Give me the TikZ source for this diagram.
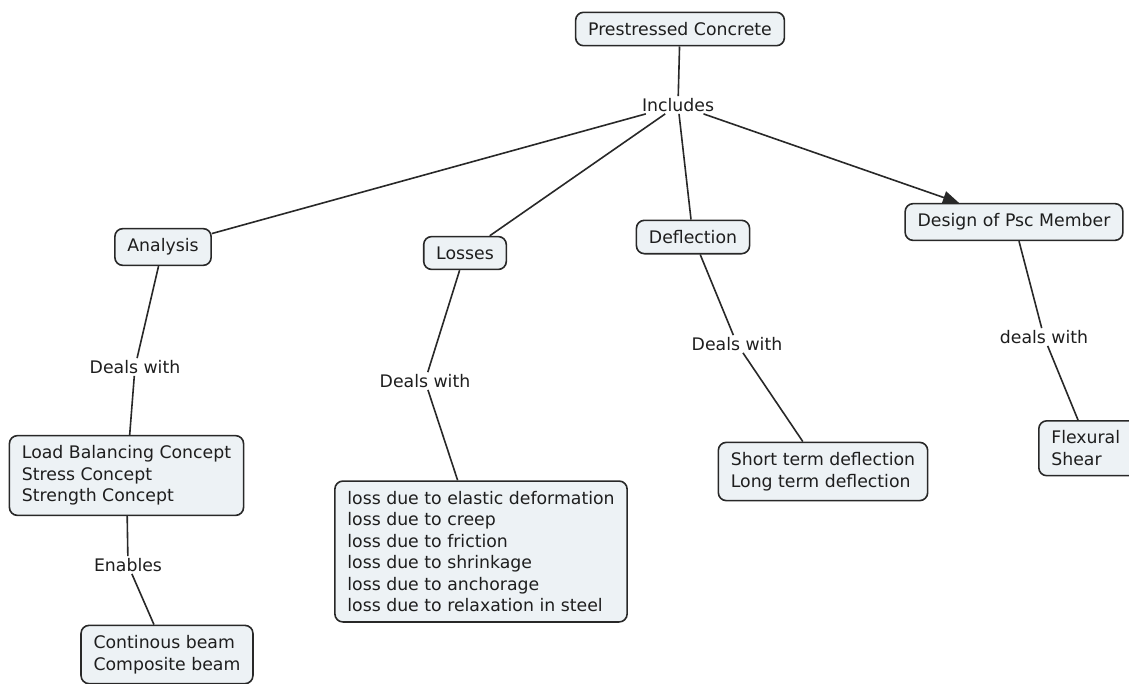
\documentclass[tikz,border=0pt]{standalone}
\usepackage{fontspec}
\setmainfont{DejaVu Sans}
\usepackage{xcolor}
\usetikzlibrary{arrows.meta}
\definecolor{boxfill}{RGB}{237,242,245}
\definecolor{boxline}{RGB}{40,40,40}
\definecolor{inktext}{RGB}{30,30,30}

\begin{document}
\begin{tikzpicture}[x=1pt,y=-1pt,
  concept/.style={draw=boxline,fill=boxfill,line width=1.6pt,rounded corners=8pt,text=inktext,
    align=left,inner xsep=12.5pt,inner ysep=10pt,font=\fontsize{17.3}{21.5}\selectfont},
  linkword/.style={inner sep=2pt,text=inktext,font=\fontsize{17.3}{21.5}\selectfont},
  conn/.style={draw=boxline,line width=1.6pt}]
  % page frame
  \clip (0,0) rectangle (1129,683);
  \fill[white] (0,0) rectangle (1129,683);
  % top concept and first link word
  \node[concept] (pc) at (680,29) {Prestressed Concrete};
  \node[linkword] (inc) at (678,105) {Includes};
  % second level concepts
  \node[concept] (ana) at (163,247) {Analysis};
  \node[concept] (los) at (465,253) {Losses};
  \node[concept] (def) at (693,237) {Deflection};
  \node[concept] (dsg) at (1014,222) {Design of Psc Member};
  % link words below the second level
  \node[linkword] (dw1) at (135,367) {Deals with};
  \node[linkword] (dw2) at (425,381) {Deals with};
  \node[linkword] (dw3) at (737,344) {Deals with};
  \node[linkword] (dw4) at (1044,337) {deals with};
  \node[linkword] (enb) at (128,565) {Enables};
  % leaf concepts
  \node[concept] (lbc) at (126.5,475.5) {Load Balancing Concept\\Stress Concept\\Strength Concept};
  \node[concept] (cnt) at (167,654.5) {Continous beam\\Composite beam};
  \node[concept] (lss) at (481,551.5) {loss due to elastic deformation\\loss due to creep\\loss due to friction\\loss due to shrinkage\\loss due to anchorage\\loss due to relaxation in steel};
  \node[concept] (std) at (823,471.5) {Short term deflection\\Long term deflection};
  \node[concept,anchor=north west,text width=100pt] (fls) at (1038,420) {Flexural\\Shear};
  % connectors
  \draw[conn] (pc) -- (inc);
  \draw[conn] (inc) -- (ana);
  \draw[conn] (inc) -- (los);
  \draw[conn] (inc) -- (def);
  \draw[conn,-{Triangle[length=16pt,width=13pt]}] (inc) -- (dsg);
  \draw[conn] (ana) -- (dw1);
  \draw[conn] (dw1) -- (lbc);
  \draw[conn] (lbc) -- (enb);
  \draw[conn] (enb) -- (cnt);
  \draw[conn] (los) -- (dw2);
  \draw[conn] (dw2) -- (lss);
  \draw[conn] (def) -- (dw3);
  \draw[conn] (dw3) -- (std);
  \draw[conn] (dsg) -- (dw4);
  \draw[conn] (dw4) -- ([xshift=40pt]fls.north west);
\end{tikzpicture}
\end{document}
